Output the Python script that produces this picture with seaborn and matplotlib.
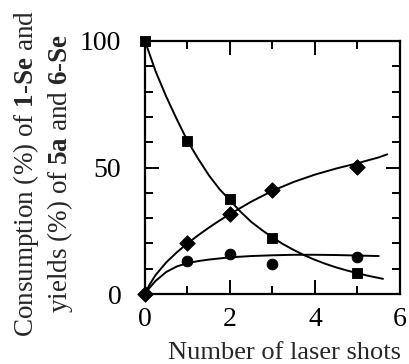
import matplotlib
matplotlib.use("Agg")
import matplotlib.pyplot as plt
import seaborn as sns
import pandas as pd
from matplotlib.ticker import MultipleLocator

# ---- data ----
shots_sq = [0, 1, 2, 3, 5]
consumption_1se = [100, 60.5, 37.5, 22, 8.2]

shots_di = [0, 1, 2, 3, 5]
yield_5a = [0, 20, 31.5, 41.3, 50.3]

shots_ci = [1, 2, 3, 5]
yield_6se = [13.2, 16, 11.7, 14.5]

# fitted curves
curve_sq_x = [0, .25, .5, .75, 1, 1.25, 1.5, 1.75, 2, 2.25, 2.5, 2.75, 3,
              3.25, 3.5, 3.75, 4, 4.25, 4.5, 4.75, 5, 5.25, 5.6]
curve_sq_y = [100, 88, 78, 69, 60.5, 53.5, 47, 41.5, 37, 32.5, 28.5, 25.3,
              22.3, 19.7, 17.4, 15.3, 13.5, 11.9, 10.5, 9.3, 8.2, 7.2, 6.0]

curve_di_x = [0, .1, .25, .5, .75, 1, 1.25, 1.5, 1.75, 2, 2.5, 3, 3.5, 4,
              4.5, 5, 5.5, 5.7]
curve_di_y = [0, 3.5, 7.5, 12.5, 16.5, 20, 23.2, 26.2, 29, 31.6, 36.5, 40.8,
              44.3, 47.2, 49.6, 51.7, 54, 55.2]

curve_ci_x = [0, .1, .25, .5, .75, 1, 1.25, 1.5, 2, 2.5, 3, 3.5, 4, 4.5, 5, 5.5]
curve_ci_y = [0, 2.3, 5.2, 8.7, 10.9, 12.2, 13.0, 13.6, 14.5, 15.0, 15.3,
              15.5, 15.5, 15.4, 15.2, 15.0]

x_major = [0, 2, 4, 6]
y_major = [0, 50, 100]

# ---- style ----
sns.set_style("ticks")
plt.rcParams["font.family"] = ["Liberation Serif", "DejaVu Serif"]
plt.rcParams["mathtext.fontset"] = "custom"
plt.rcParams["mathtext.rm"] = "Liberation Serif"
plt.rcParams["mathtext.bf"] = "Liberation Serif:bold"

fig = plt.figure(figsize=(4.10, 3.64), dpi=100)
ax = fig.add_axes([145 / 410, 1 - 294 / 364, 255 / 410, 253 / 364])

lw = 1.4
for cx, cy in [(curve_sq_x, curve_sq_y), (curve_di_x, curve_di_y),
               (curve_ci_x, curve_ci_y)]:
    sns.lineplot(x=cx, y=cy, ax=ax, color="black", lw=lw, sort=False,
                 estimator=None)

sns.scatterplot(x=shots_sq, y=consumption_1se, ax=ax, marker="s", s=60,
                color="black", edgecolor="black", zorder=5, clip_on=False)
sns.scatterplot(x=shots_di, y=yield_5a, ax=ax, marker="D", s=62,
                color="black", edgecolor="black", zorder=5, clip_on=False)
sns.scatterplot(x=shots_ci, y=yield_6se, ax=ax, marker="o", s=60,
                color="black", edgecolor="black", zorder=5, clip_on=False)

ax.set_xlim(0, 6)
ax.set_ylim(0, 100)
ax.set_xticks(x_major)
ax.set_yticks(y_major)
ax.xaxis.set_minor_locator(MultipleLocator(1))
ax.yaxis.set_minor_locator(MultipleLocator(10))
ax.tick_params(which="both", direction="in", top=True, right=True,
               width=1.4, color="black", labelsize=20, labelcolor="black")
ax.tick_params(which="major", length=10)
ax.tick_params(which="minor", length=5.5)
ax.tick_params(axis="x", pad=9)
ax.tick_params(axis="y", pad=17)
for sp in ax.spines.values():
    sp.set_visible(True)
    sp.set_linewidth(1.6)
    sp.set_color("black")

ax.set_xlabel("Number of laser shots", fontsize=19)
ax.xaxis.set_label_coords((285 - 145) / 255, -(342 - 294) / 253)
ax.set_ylabel("")
fig.text(43 / 410, 1 - 173 / 364,
         "Consumption (%) of $\\mathbf{1}$-$\\mathbf{Se}$ and\n"
         "yields (%) of $\\mathbf{5a}$ and $\\mathbf{6}$-$\\mathbf{Se}$",
         rotation=90, ha="center", va="center", multialignment="center",
         fontsize=19.5, linespacing=1.15)

fig.savefig("out.png", dpi=100)
